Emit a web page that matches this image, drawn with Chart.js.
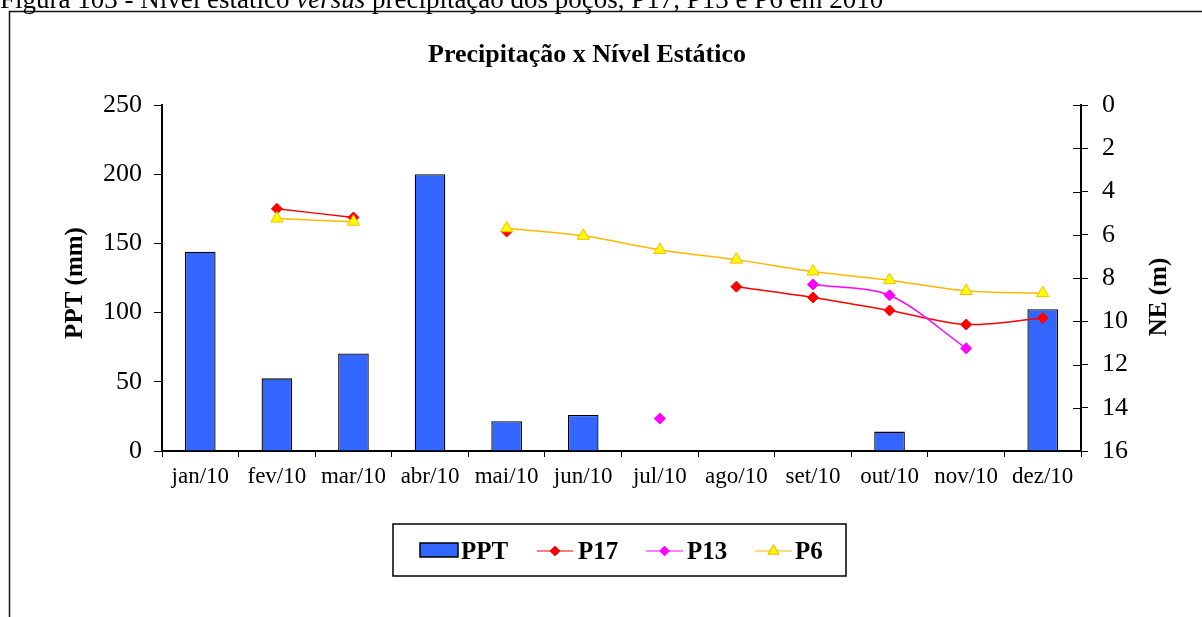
<!DOCTYPE html>
<html>
<head>
<meta charset="utf-8">
<title>Precipitação x Nível Estático</title>
<script src="https://cdn.jsdelivr.net/npm/chart.js@4/dist/chart.umd.min.js"></script>
<style>
    html, body { margin: 0; padding: 0; background: #fff; }
    #wrap { width: 1202px; height: 617px; position: relative; overflow: hidden; }
</style>
</head>
<body>
<div id="wrap"><canvas id="chart" width="1202" height="617"></canvas></div>
<script>
// Monthly data, 2010
const months = ['jan/10', 'fev/10', 'mar/10', 'abr/10', 'mai/10', 'jun/10',
                'jul/10', 'ago/10', 'set/10', 'out/10', 'nov/10', 'dez/10'];
const ppt = [144, 52.5, 70.5, 200, 21.5, 26, 0, 0, 0, 14, 0, 102.5];      // mm
const p17 = [null, 4.8, 5.2, null, 5.85, null, null, 8.4, 8.9, 9.5, 10.15, 9.85];  // m
const p13 = [null, null, null, null, null, null, 14.5, null, 8.3, 8.8, 11.25, null];
const p6  = [null, 5.25, 5.4, null, 5.7, 6.05, 6.7, 7.15, 7.7, 8.1, 8.6, 8.7];
const pptTicks = [0, 50, 100, 150, 200, 250];
const neTicks = [0, 2, 4, 6, 8, 10, 12, 14, 16];

const SERIF = "'Liberation Serif', 'Times New Roman', serif";

// Caption, outer frame, chart title and axis titles
const decorPlugin = {
    id: 'decor',
    beforeDraw(chart) {
        const ctx = chart.ctx;
        ctx.save();
        ctx.fillStyle = '#fff';
        ctx.fillRect(0, 0, chart.width, chart.height);

        // figure caption (top cut off by the page edge)
        ctx.fillStyle = '#000';
        ctx.textBaseline = 'alphabetic';
        let x = 0;
        const parts = [
            ['Figura 103 - Nível estático ', 'normal'],
            ['versus', 'italic'],
            [' precipitação dos poços, P17, P13 e P6 em 2010', 'normal']
        ];
        parts.forEach(([txt, style]) => {
            ctx.font = style + ' 27px ' + SERIF;
            ctx.fillText(txt, x, 8);
            x += ctx.measureText(txt).width;
        });

        // frame around the chart
        ctx.strokeStyle = '#111';
        ctx.lineWidth = 1.5;
        ctx.strokeRect(9.5, 11.5, 1300, 700);
        ctx.restore();
    },
    afterDraw(chart) {
        const ctx = chart.ctx;
        const area = chart.chartArea;
        ctx.save();
        ctx.fillStyle = '#000';

        // chart title
        ctx.font = 'bold 26px ' + SERIF;
        ctx.textAlign = 'center';
        ctx.textBaseline = 'alphabetic';
        ctx.fillText('Precipitação x Nível Estático', 587, 62);

        // axis titles
        ctx.font = 'bold 25px ' + SERIF;
        ctx.save();
        ctx.translate(76, 283);
        ctx.rotate(-Math.PI / 2);
        ctx.textBaseline = 'middle';
        ctx.fillText('PPT (mm)', 0, 0);
        ctx.restore();

        ctx.save();
        ctx.translate(1160, 297);
        ctx.rotate(-Math.PI / 2);
        ctx.textBaseline = 'middle';
        ctx.fillText('NE (m)', 0, 0);
        ctx.restore();

        // inner half of the right axis tick marks
        const y1 = chart.scales.y1;
        ctx.strokeStyle = '#000';
        ctx.lineWidth = 1;
        neTicks.forEach(v => {
            const py = Math.round(y1.getPixelForValue(v)) + 0.5;
            ctx.beginPath();
            ctx.moveTo(area.right - 8, py);
            ctx.lineTo(area.right, py);
            ctx.stroke();
        });
        ctx.restore();
    }
};

// Boxed legend under the plot, styled from the datasets
const legendPlugin = {
    id: 'boxLegend',
    afterDraw(chart) {
        const ctx = chart.ctx;
        const ds = chart.data.datasets;
        ctx.save();
        ctx.strokeStyle = '#000';
        ctx.lineWidth = 1.5;
        ctx.strokeRect(393, 524, 453, 52);

        ctx.font = 'bold 25px ' + SERIF;
        ctx.fillStyle = '#000';
        ctx.textBaseline = 'alphabetic';
        const baseY = 559;
        const lineY = 551;

        // PPT swatch
        ctx.fillStyle = ds[0].backgroundColor;
        ctx.fillRect(420, 543, 38, 14);
        ctx.strokeStyle = '#000';
        ctx.lineWidth = 1.5;
        ctx.strokeRect(420, 543, 38, 14);
        ctx.fillStyle = '#000';
        ctx.fillText('PPT', 461, baseY);

        const items = [
            { d: ds[1], x0: 537, x1: 573, tx: 578 },
            { d: ds[2], x0: 646, x1: 683, tx: 687 },
            { d: ds[3], x0: 755, x1: 792, tx: 795 }
        ];
        items.forEach(it => {
            ctx.strokeStyle = it.d.borderColor;
            ctx.lineWidth = 1.2;
            ctx.beginPath();
            ctx.moveTo(it.x0, lineY);
            ctx.lineTo(it.x1, lineY);
            ctx.stroke();
            Chart.helpers.drawPoint(ctx, {
                pointStyle: it.d.pointStyle,
                radius: it.d.pointRadius - 1,
                rotation: 0,
                borderWidth: 1
            }, (it.x0 + it.x1) / 2, lineY);
            ctx.fillStyle = it.d.pointBackgroundColor;
            ctx.strokeStyle = it.d.pointBorderColor;
            ctx.lineWidth = 1;
            ctx.fill();
            ctx.stroke();
            ctx.fillStyle = '#000';
            ctx.fillText(it.d.label, it.tx, baseY);
        });
        ctx.restore();
    }
};

function lineSeries(label, data, color, fill, border, style, radius, order) {
    return {
        type: 'line',
        label: label,
        data: data,
        yAxisID: 'y1',
        borderColor: color,
        borderWidth: 1.5,
        pointStyle: style,
        pointRadius: radius,
        pointBackgroundColor: fill,
        pointBorderColor: border,
        pointBorderWidth: 1,
        tension: 0.3,
        spanGaps: false,
        fill: false,
        order: order
    };
}

new Chart(document.getElementById('chart'), {
    type: 'bar',
    data: {
        labels: months,
        datasets: [
            {
                label: 'PPT',
                data: ppt,
                yAxisID: 'y',
                backgroundColor: '#3366FF',
                borderColor: '#000',
                borderWidth: 1.3,
                barPercentage: 0.4,
                categoryPercentage: 1,
                order: 3
            },
            // later series sit on top of earlier ones
            lineSeries('P17', p17, '#FF0000', '#FF0000', '#FF0000', 'rectRot', 5.5, 2),
            lineSeries('P13', p13, '#FF00FF', '#FF00FF', '#FF00FF', 'rectRot', 5.5, 1),
            lineSeries('P6', p6, '#FFB800', '#FFFF00', '#FFB800', 'triangle', 7, 0)
        ]
    },
    options: {
        responsive: false,
        animation: false,
        devicePixelRatio: 1,
        layout: { padding: { left: 10, top: 105, right: 0, bottom: 0 } },
        plugins: {
            legend: { display: false },
            title: { display: false },
            tooltip: { enabled: false }
        },
        scales: {
            x: {
                grid: { offset: true, drawOnChartArea: false, tickLength: 6, color: '#000' },
                border: { color: '#000', width: 2 },
                ticks: { color: '#000', padding: 6, maxRotation: 0, font: { family: SERIF, size: 23 } },
                afterFit: s => { s.height = 166; }
            },
            y: {
                position: 'left',
                min: 0,
                max: 250,
                afterBuildTicks: s => { s.ticks = pptTicks.map(v => ({ value: v })); },
                grid: { drawOnChartArea: false, tickLength: 8, color: '#000' },
                border: { color: '#000', width: 2 },
                ticks: { color: '#000', padding: 12, font: { family: SERIF, size: 26 } },
                afterFit: s => { s.width = 152; }
            },
            y1: {
                position: 'right',
                min: 0,
                max: 16,
                reverse: true,
                afterBuildTicks: s => { s.ticks = neTicks.map(v => ({ value: v })); },
                grid: { drawOnChartArea: false, tickLength: 7, color: '#000' },
                border: { color: '#000', width: 2 },
                ticks: { color: '#000', padding: 14, font: { family: SERIF, size: 26 } },
                afterFit: s => { s.width = 121; }
            }
        }
    },
    plugins: [decorPlugin, legendPlugin]
});
</script>
</body>
</html>
